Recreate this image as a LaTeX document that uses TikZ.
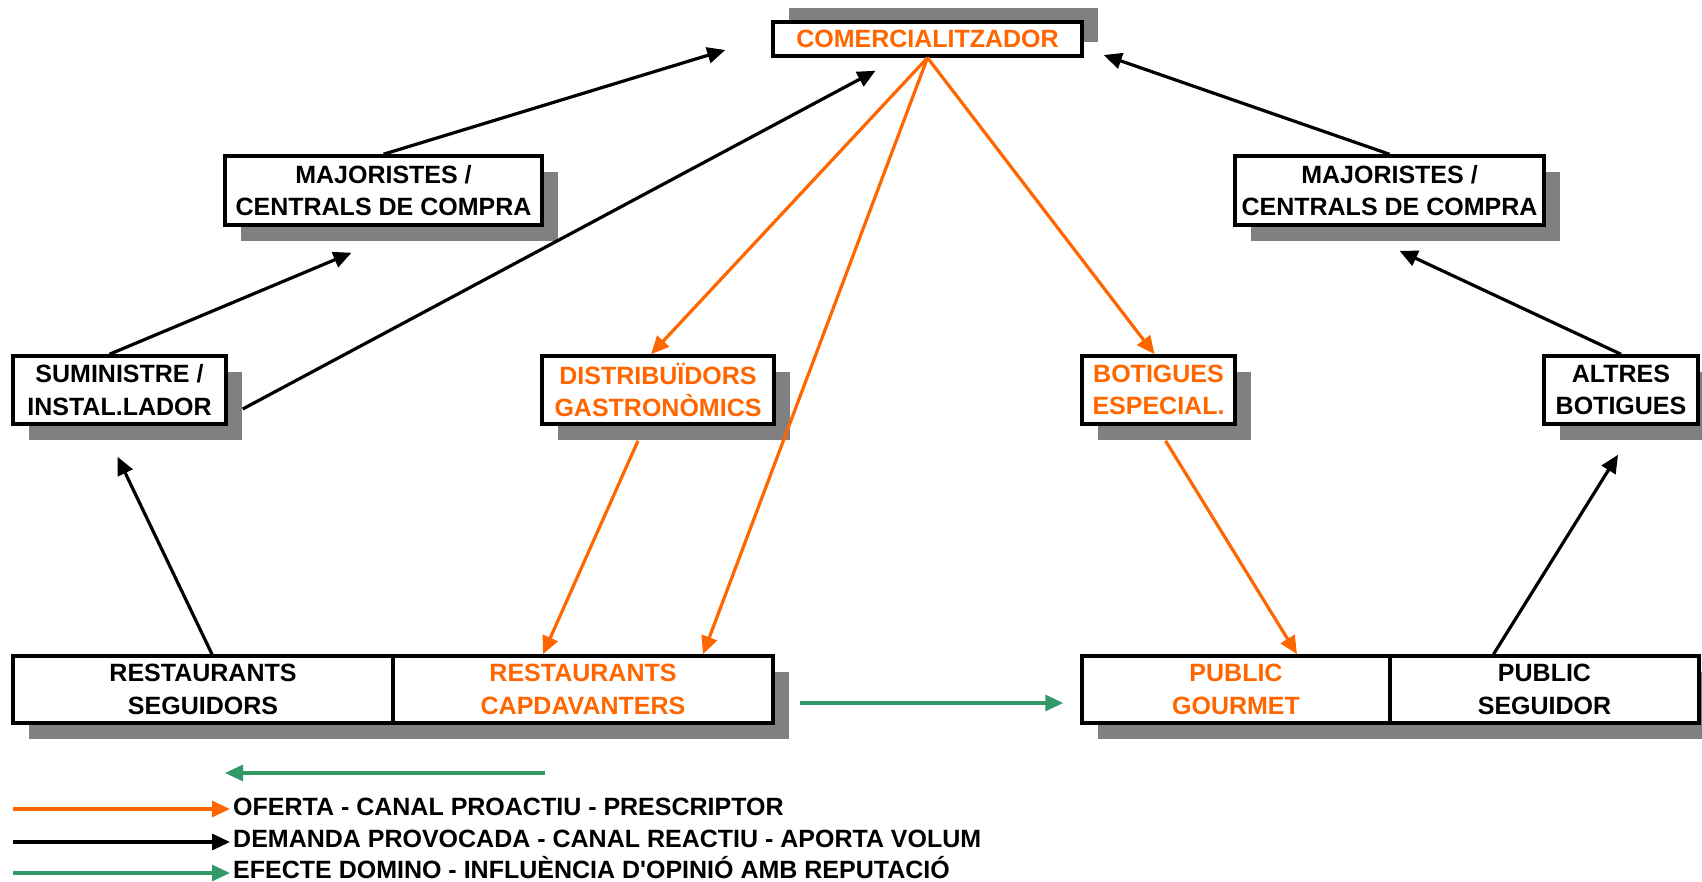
\documentclass[tikz,border=0pt]{standalone}
\usepackage{fontspec}
\setmainfont{Liberation Sans}
\usepackage{tikz}
\usetikzlibrary{arrows.meta}
\definecolor{canalorange}{HTML}{FF6600}
\definecolor{dominogreen}{HTML}{339966}
\definecolor{shadowgray}{HTML}{808080}
\tikzset{
  boxbase/.style={draw,line width=3.5pt,fill=white,align=center,inner sep=0pt,
    font=\fontsize{25}{32.5}\selectfont\bfseries},
  box/.style={boxbase,preaction={fill=shadowgray,transform canvas={shift={(16pt,-16pt)}}}},
  topbox/.style={boxbase,preaction={fill=shadowgray,transform canvas={shift={(16pt,14pt)}}}},
  flow/.style={line width=3.2pt,-{Triangle[length=18pt,width=16pt]}},
  oferta/.style={flow,canalorange},
  demanda/.style={flow,black},
  domino/.style={flow,dominogreen},
  legend/.style={anchor=base west,inner sep=3pt,font=\fontsize{25}{32.5}\selectfont\bfseries}
}
\begin{document}
\begin{tikzpicture}[x=1pt,y=-1pt]
    \useasboundingbox (0,0) rectangle (1702,882);
    \node[topbox,text=canalorange,minimum width=309pt,minimum height=34pt] (com) at (927.5,39) {COMERCIALITZADOR};
    \node[box,minimum width=317pt,minimum height=69pt] (majL) at (383.5,190.5) {MAJORISTES /\\CENTRALS DE COMPRA};
    \node[box,minimum width=309pt,minimum height=69pt] (majR) at (1389.5,190.5) {MAJORISTES /\\CENTRALS DE COMPRA};
    \node[box,minimum width=213pt,minimum height=68pt] (sum) at (119.5,390) {SUMINISTRE /\\INSTAL.LADOR};
    \node[box,text=canalorange,minimum width=232pt,minimum height=68pt] (dist) at (658,390) {DISTRIBUÏDORS\\GASTRONÒMICS};
    \node[box,text=canalorange,minimum width=153pt,minimum height=68pt] (bot) at (1158.5,390) {BOTIGUES\\ESPECIAL.};
    \node[box,minimum width=154pt,minimum height=68pt] (alt) at (1621,390) {ALTRES\\BOTIGUES};
    \node[box,minimum width=380pt,minimum height=67pt] (rs) at (203,689.5) {RESTAURANTS\\SEGUIDORS};
    \node[box,text=canalorange,minimum width=380pt,minimum height=67pt] (rc) at (583,689.5) {RESTAURANTS\\CAPDAVANTERS};
    \node[box,text=canalorange,minimum width=308pt,minimum height=67pt] (pg) at (1236,689.5) {PUBLIC\\GOURMET};
    \node[box,minimum width=309pt,minimum height=67pt] (ps) at (1544.5,689.5) {PUBLIC\\SEGUIDOR};

    \draw[demanda] (majL.north) -- ([shift={(-46,11)}]com.west);
    \draw[demanda] ([shift={(15,19)}]sum.east) -- ([shift={(-52,13)}]com.south);
    \draw[demanda] ([shift={(-10,0)}]sum.north) -- ([shift={(-32,26)}]majL.south);
    \draw[demanda] ([shift={(9,0)}]rs.north) -- ([shift={(-2,31)}]sum.south);
    \draw[demanda] (majR.north) -- ([shift={(20,16)}]com.east);
    \draw[demanda] (alt.north) -- ([shift={(10,24)}]majR.south);
    \draw[demanda] ([shift={(-51,0)}]ps.north) -- ([shift={(-3,29)}]alt.south);

    \draw[oferta] (com.south) -- ([shift={(-7,0)}]dist.north);
    \draw[oferta] (com.south) -- ([shift={(120,0)}]rc.north);
    \draw[oferta] (com.south) -- ([shift={(-4,0)}]bot.north);
    \draw[oferta] ([shift={(-20,15)}]dist.south) -- ([shift={(-40,0)}]rc.north);
    \draw[oferta] ([shift={(7,15)}]bot.south) -- ([shift={(61,0)}]pg.north);

    \draw[domino] ([shift={(25,13.5)}]rc.east) -- ([shift={(-17,13.5)}]pg.west);

    \coordinate (gstart) at (545,773);
    \coordinate (gend) at (225,773);
    \draw[domino] (gstart) -- (gend);

    \node[legend] (lo) at (230,815) {OFERTA - CANAL PROACTIU - PRESCRIPTOR};
    \node[legend] (ld) at (230,847) {DEMANDA PROVOCADA - CANAL REACTIU - APORTA VOLUM};
    \node[legend] (le) at (230,878) {EFECTE DOMINO - INFLUÈNCIA D\textquotesingle OPINIÓ AMB REPUTACIÓ};
    \coordinate (lo0) at (13,809);
    \coordinate (ld0) at (13,842);
    \coordinate (le0) at (13,873);
    \draw[oferta] (lo0) -- (lo0 -| lo.west);
    \draw[demanda] (ld0) -- (ld0 -| ld.west);
    \draw[domino] (le0) -- (le0 -| le.west);
\end{tikzpicture}
\end{document}
